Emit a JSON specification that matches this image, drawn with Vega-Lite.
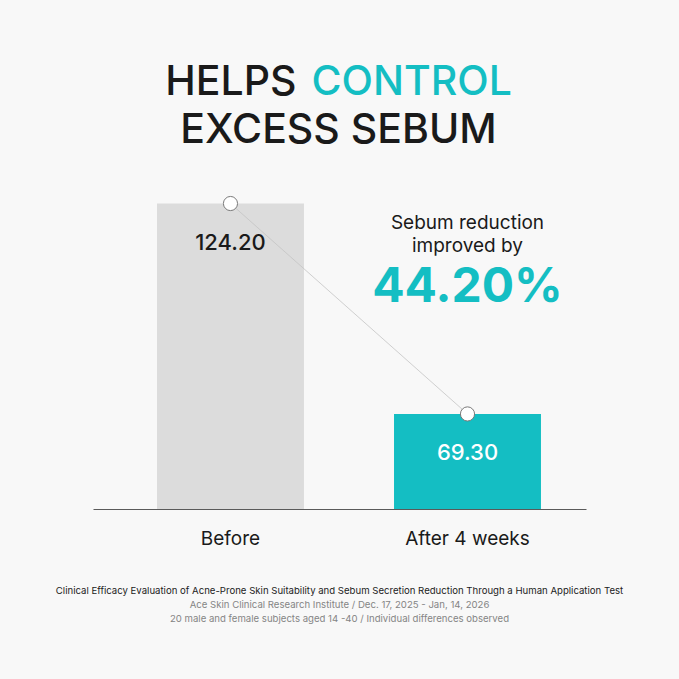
{
  "$schema": "https://vega.github.io/schema/vega-lite/v6.json",
  "width": 493,
  "height": 509,
  "autosize": {"type": "none"},
  "padding": {"left": 93, "right": 93, "top": 0, "bottom": 170},
  "background": "#f8f8f8",
  "config": {"view": {"stroke": null}, "font": "Inter"},
  "title": {
    "text": "Clinical Efficacy Evaluation of Acne-Prone Skin Suitability and Sebum Secretion Reduction Through a Human Application Test",
    "subtitle": ["Ace Skin Clinical Research Institute / Dec. 17, 2025 - Jan, 14, 2026", "20 male and female subjects aged 14 -40 / Individual differences observed"],
    "orient": "bottom",
    "anchor": "middle",
    "font": "Inter",
    "fontSize": 9.6,
    "fontWeight": "normal",
    "color": "#222222",
    "subtitleFont": "Inter",
    "subtitleFontSize": 9.6,
    "subtitleColor": "#858585",
    "subtitlePadding": 4,
    "subtitleLineHeight": 14,
    "offset": 38
  },
  "datasets": {
    "bars": [
      {"cat": "Before", "value": 124.2},
      {"cat": "After 4 weeks", "value": 69.3}
    ],
    "notes": [
      {"key": "h1", "t": "HELPS"},
      {"key": "h2", "t": "CONTROL"},
      {"key": "h3", "t": "EXCESS SEBUM"},
      {"key": "s1", "t": "Sebum reduction"},
      {"key": "s2", "t": "improved by"},
      {"key": "s3", "t": "44.20%"}
    ]
  },
  "layer": [
    {"data": {"name": "bars"},
     "mark": {"type": "bar"},
     "encoding": {
       "x": {"field": "cat", "type": "nominal", "sort": ["Before", "After 4 weeks"],
         "scale": {"paddingInner": 0.38, "paddingOuter": 0.23, "align": 0.587},
         "axis": {"title": null, "labelAngle": 0, "labelFontSize": 19, "labelColor": "#1a1a1a", "labelFont": "Inter", "ticks": false, "domainColor": "#5a5a5a", "domainWidth": 1.1, "labelPadding": 20, "grid": false, "zindex": 1}},
       "y": {"field": "value", "type": "quantitative",
         "scale": {"domain": [44.5, 177.3], "zero": false, "nice": false}, "axis": null},
       "y2": {"datum": 44.5},
       "color": {"field": "cat", "type": "nominal", "scale": {"domain": ["Before", "After 4 weeks"], "range": ["#dcdcdc", "#14bec3"]}, "legend": null}}},
    {"data": {"name": "bars"},
     "mark": {"type": "line", "color": "#c4c4c4", "strokeWidth": 0.8},
     "encoding": {"x": {"field": "cat", "type": "nominal", "sort": ["Before", "After 4 weeks"]}, "y": {"field": "value", "type": "quantitative"}}},
    {"data": {"name": "bars"},
     "mark": {"type": "point", "filled": true, "fill": "#ffffff", "stroke": "#7a7a7a", "strokeWidth": 1, "size": 200, "opacity": 1},
     "encoding": {"x": {"field": "cat", "type": "nominal", "sort": ["Before", "After 4 weeks"]}, "y": {"field": "value", "type": "quantitative"}}},
    {"data": {"name": "bars"},
     "mark": {"type": "text", "fontSize": 22, "fontWeight": 500, "baseline": "alphabetic", "dy": 46},
     "encoding": {"x": {"field": "cat", "type": "nominal", "sort": ["Before", "After 4 weeks"]}, "y": {"field": "value", "type": "quantitative"},
       "text": {"field": "value", "type": "quantitative", "format": ".2f"},
       "color": {"condition": {"test": "datum.cat === 'Before'", "value": "#1a1a1a"}, "value": "#ffffff"}}},
    {"data": {"name": "notes"},
     "transform": [{"filter": "datum.key === 'h1'"}],
     "mark": {"type": "text", "dx": 66, "align": "right", "baseline": "alphabetic", "fontSize": 41, "fontWeight": 500, "letterSpacing": 1.6, "color": "#1a1a1a"},
     "encoding": {"x": {"datum": "Before", "type": "nominal"}, "y": {"datum": 152.5, "type": "quantitative"}, "text": {"field": "t", "type": "nominal"}}},
    {"data": {"name": "notes"},
     "transform": [{"filter": "datum.key === 'h2'"}],
     "mark": {"type": "text", "dx": 81, "align": "left", "baseline": "alphabetic", "fontSize": 41, "fontWeight": 500, "letterSpacing": 1.6, "color": "#14bec3"},
     "encoding": {"x": {"datum": "Before", "type": "nominal"}, "y": {"datum": 152.5, "type": "quantitative"}, "text": {"field": "t", "type": "nominal"}}},
    {"data": {"name": "notes"},
     "transform": [{"filter": "datum.key === 'h3'"}],
     "mark": {"type": "text", "dx": 108, "align": "center", "baseline": "alphabetic", "fontSize": 41, "fontWeight": 500, "letterSpacing": 1.6, "color": "#1a1a1a"},
     "encoding": {"x": {"datum": "Before", "type": "nominal"}, "y": {"datum": 140.0, "type": "quantitative"}, "text": {"field": "t", "type": "nominal"}}},
    {"data": {"name": "notes"},
     "transform": [{"filter": "datum.key === 's1'"}],
     "mark": {"type": "text", "align": "center", "baseline": "alphabetic", "fontSize": 19, "fontWeight": 400, "letterSpacing": 0.4, "color": "#1a1a1a"},
     "encoding": {"x": {"datum": "After 4 weeks", "type": "nominal"}, "y": {"datum": 117.5, "type": "quantitative"}, "text": {"field": "t", "type": "nominal"}}},
    {"data": {"name": "notes"},
     "transform": [{"filter": "datum.key === 's2'"}],
     "mark": {"type": "text", "align": "center", "baseline": "alphabetic", "fontSize": 19, "fontWeight": 400, "letterSpacing": 0.4, "color": "#1a1a1a"},
     "encoding": {"x": {"datum": "After 4 weeks", "type": "nominal"}, "y": {"datum": 111.6, "type": "quantitative"}, "text": {"field": "t", "type": "nominal"}}},
    {"data": {"name": "notes"},
     "transform": [{"filter": "datum.key === 's3'"}],
     "mark": {"type": "text", "align": "center", "baseline": "alphabetic", "fontSize": 48, "fontWeight": 700, "letterSpacing": 0.5, "color": "#14bec3"},
     "encoding": {"x": {"datum": "After 4 weeks", "type": "nominal"}, "y": {"datum": 98.4, "type": "quantitative"}, "text": {"field": "t", "type": "nominal"}}}
  ]
}
